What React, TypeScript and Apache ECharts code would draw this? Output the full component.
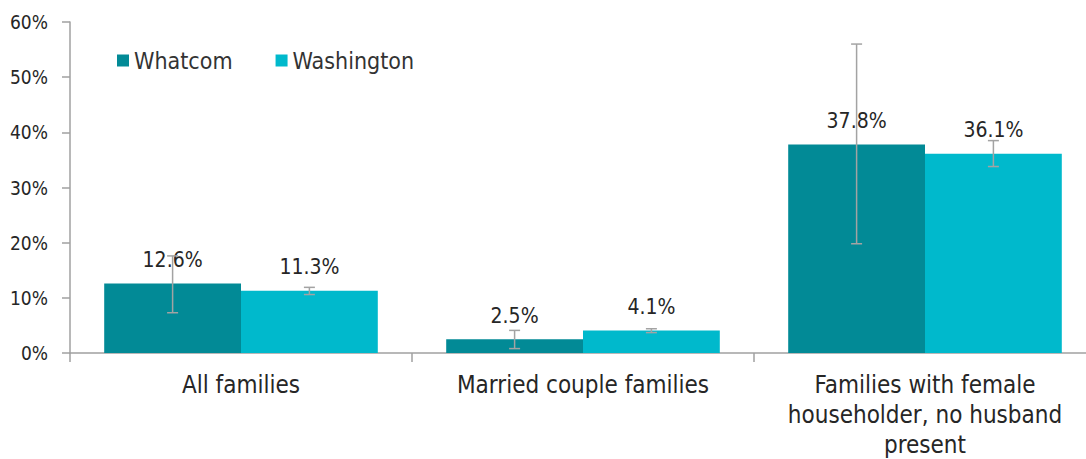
import React, { useEffect, useRef } from "react";
import * as echarts from "echarts";

const categories = [
  "All families",
  "Married couple families",
  "Families with female\nhouseholder, no husband\npresent",
];
const seriesNames = ["Whatcom", "Washington"];
const whatcomValues = [12.6, 2.5, 37.8];
const washingtonValues = [11.3, 4.1, 36.1];
const whatcomLow = [7.3, 0.8, 19.8];
const whatcomHigh = [17.6, 4.1, 56.0];
const washingtonLow = [10.6, 3.7, 33.8];
const washingtonHigh = [11.9, 4.4, 38.5];
const yTicks = [0, 10, 20, 30, 40, 50, 60];

const colors = ["#028a96", "#00b9cc"];
const FONT = "'DejaVu Sans Condensed', 'DejaVu Sans', sans-serif";

export default function App() {
  const ref = useRef<HTMLDivElement>(null);
  useEffect(() => {
    if (!ref.current) return;
    const chart = echarts.init(ref.current, undefined, { renderer: "svg" });

    const makeErr = (offsetSign: number) => (params: any, api: any) => {
      const ci = api.value(0);
      const lo = api.coord([ci, api.value(1)]);
      const hi = api.coord([ci, api.value(2)]);
      const bandW = api.size([1, 0])[0];
      const bw = (bandW * 0.8) / 2;
      const x = lo[0] + (offsetSign * bw) / 2;
      const cap = 5.5;
      const style = { stroke: "#a3a3a3", lineWidth: 1.5 };
      return {
        type: "group",
        children: [
          { type: "line", shape: { x1: x, y1: lo[1], x2: x, y2: hi[1] }, style },
          { type: "line", shape: { x1: x - cap, y1: lo[1], x2: x + cap, y2: lo[1] }, style },
          { type: "line", shape: { x1: x - cap, y1: hi[1], x2: x + cap, y2: hi[1] }, style },
        ],
      };
    };

    const label = {
      show: true,
      position: "top",
      distance: 13,
      formatter: (p: any) => p.value.toFixed(1) + "%",
      fontFamily: FONT,
      fontSize: 21,
      color: "#262626",
    };

    chart.setOption({
      animation: false,
      color: colors,
      legend: {
        left: 112,
        top: 44,
        itemWidth: 12,
        itemHeight: 12,
        itemGap: 43,
        icon: "rect",
        data: seriesNames,
        textStyle: { fontFamily: FONT, fontSize: 23, color: "#333" },
      },
      grid: {
        left: 70,
        top: 22,
        width: 1026,
        height: 331,
        containLabel: false,
        outerBoundsMode: "none",
      },
      xAxis: {
        type: "category",
        data: categories,
        axisLine: { lineStyle: { color: "#a0a0a0", width: 1.5 } },
        axisTick: { show: true, length: 9, lineStyle: { color: "#a0a0a0", width: 1.5 } },
        axisLabel: {
          fontFamily: FONT,
          fontSize: 24,
          lineHeight: 30,
          color: "#262626",
          margin: 17,
          interval: 0,
        },
      },
      yAxis: {
        type: "value",
        min: yTicks[0],
        max: yTicks[yTicks.length - 1],
        interval: 10,
        splitLine: { show: false },
        axisLine: { show: true, lineStyle: { color: "#a0a0a0", width: 1.5 } },
        axisTick: { show: true, length: 8, lineStyle: { color: "#a0a0a0", width: 1.5 } },
        axisLabel: {
          fontFamily: FONT,
          fontSize: 19,
          color: "#262626",
          margin: 22,
          formatter: (v: number) => v + "%",
        },
      },
      series: [
        {
          name: seriesNames[0],
          type: "bar",
          data: whatcomValues,
          barGap: "0%",
          barCategoryGap: "20%",
          label,
        },
        {
          name: seriesNames[1],
          type: "bar",
          data: washingtonValues,
          barGap: "0%",
          barCategoryGap: "20%",
          label,
        },
        {
          type: "custom",
          renderItem: makeErr(-1),
          data: categories.map((_, i) => [i, whatcomLow[i], whatcomHigh[i]]),
          z: 10,
          silent: true,
        },
        {
          type: "custom",
          renderItem: makeErr(1),
          data: categories.map((_, i) => [i, washingtonLow[i], washingtonHigh[i]]),
          z: 10,
          silent: true,
        },
      ],
    });
    return () => chart.dispose();
  }, []);
  return (
    <div
      ref={ref}
      style={{ position: "fixed", left: 0, top: 0, width: 1086, height: 459, background: "#fff" }}
    />
  );
}
